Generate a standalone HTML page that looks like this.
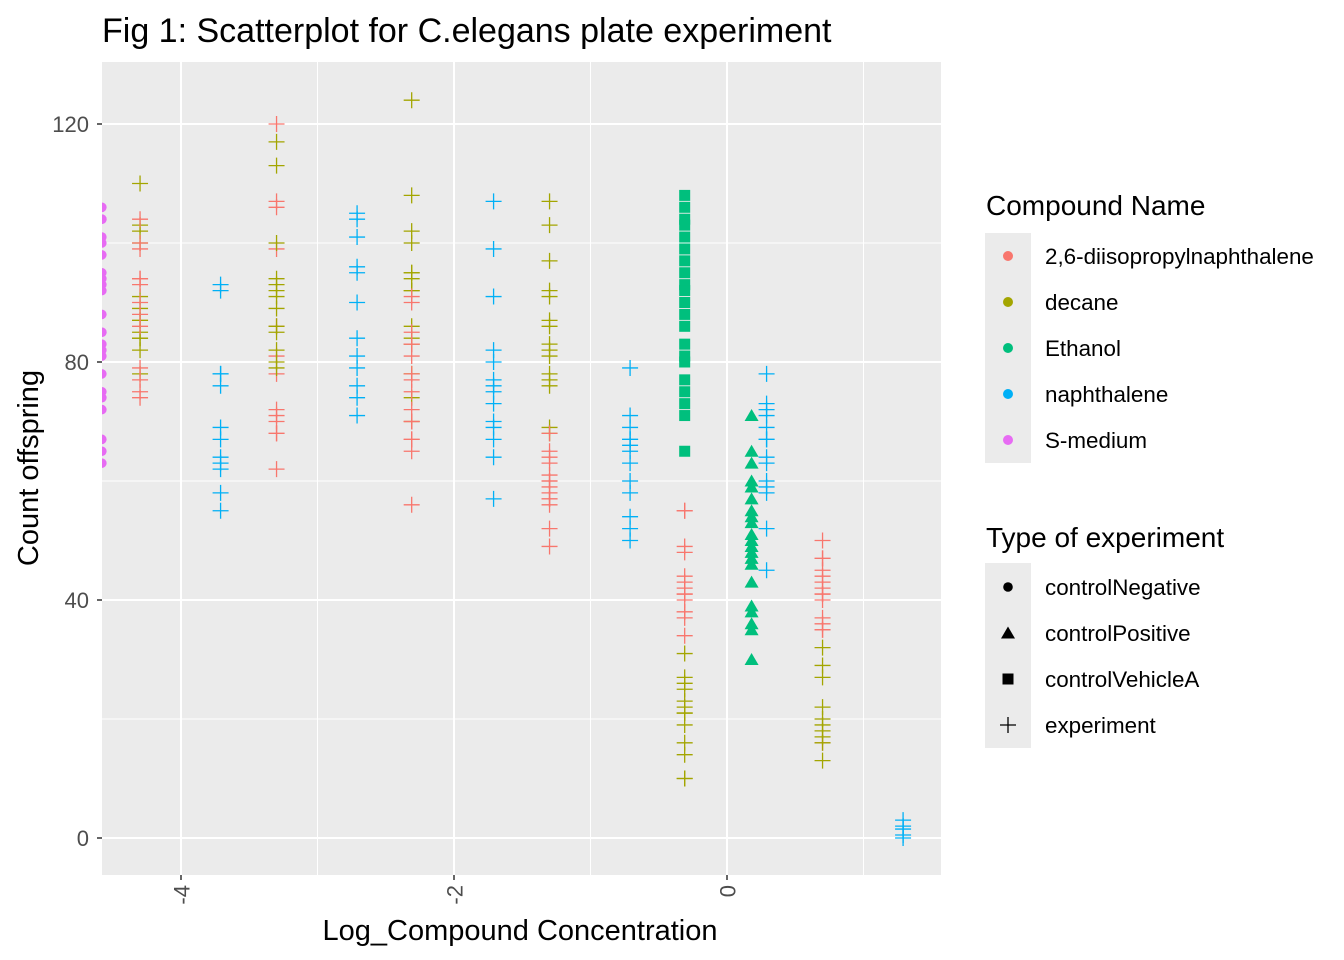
<!DOCTYPE html>
<html><head><meta charset="utf-8"><style>
body{margin:0;background:#fff;}
svg{display:block;font-family:"Liberation Sans",Arial,sans-serif;}
</style></head><body>
<svg id="chart" width="1344" height="960" viewBox="0 0 1344 960">
<defs><clipPath id="pc"><rect x="102" y="62" width="839" height="813"/></clipPath></defs>
<text x="102" y="42" font-size="34" fill="#000">Fig 1: Scatterplot for C.elegans plate experiment</text>
<rect x="102" y="62" width="839" height="813" fill="#EBEBEB"/>
<g id="grid"></g>
<g id="marks" clip-path="url(#pc)"></g>
<g id="axes"></g>
<text x="520" y="940" font-size="29" text-anchor="middle" fill="#000">Log_Compound Concentration</text>
<text transform="translate(38,468) rotate(-90)" font-size="29" text-anchor="middle" fill="#000">Count offspring</text>
<g id="legend"></g>
</svg>
<script>
const xTicks=[-4,-2,0];
const xMinor=[-3,-1,1];
const yTicks=[0,40,80,120];
const yMinor=[20,60,100];
const compounds=["2,6-diisopropylnaphthalene","decane","Ethanol","naphthalene","S-medium"];
const colors=["#F8766D","#A3A500","#00BF7D","#00B0F6","#E76BF3"];
const types=["controlNegative","controlPositive","controlVehicleA","experiment"];
const sMediumCounts=[106,104,104,101,100,98,95,94,93,92,88,85,85,83,82,81,78,75,74,72,67,65,63];
const ethanolVehicleCounts=[108,106,104,103,101,99,97,95,93,92,90,88,86,83,81,80,77,75,73,71,65];
const ethanolPositiveCounts=[71,65,63,60,59,57,55,54,53,51,50,49,48,47,46,43,39,38,36,35,30];
const groups=[
 [4,0,-4.58,sMediumCounts],
 [1,3,-4.30,[110,103,102,100,91,89,87,87,85,84,84,82,78]],
 [0,3,-4.30,[104,100,99,94,94,93,90,88,86,79,77,75,74]],
 [3,3,-3.71,[93,92,78,78,76,69,67,64,63,62,58,55]],
 [0,3,-3.30,[120,107,106,99,86,81,78,72,71,70,68,68,62]],
 [1,3,-3.30,[117,113,100,94,93,92,91,89,86,85,82,80,79]],
 [3,3,-2.71,[105,104,101,96,95,90,84,81,79,76,74,71]],
 [1,3,-2.31,[124,108,102,100,95,95,94,92,92,86,84,83,78,74,70]],
 [0,3,-2.31,[91,90,85,83,83,81,78,77,75,72,70,70,67,67,65,56]],
 [3,3,-1.71,[107,99,91,82,80,77,76,75,73,70,69,67,64,57]],
 [1,3,-1.30,[107,103,97,92,91,87,86,83,82,81,78,77,76,69,68]],
 [0,3,-1.30,[68,65,64,63,61,60,60,59,58,57,57,56,52,49]],
 [3,3,-0.71,[79,71,69,67,67,66,65,63,60,58,54,52,50]],
 [2,2,-0.31,ethanolVehicleCounts],
 [0,3,-0.31,[55,55,49,48,44,43,42,41,41,40,38,38,37,34]],
 [1,3,-0.31,[31,27,26,25,23,22,21,21,19,16,14,10,10]],
 [2,1,0.18,ethanolPositiveCounts],
 [3,3,0.29,[78,73,72,71,69,67,67,64,63,60,59,58,52,45]],
 [0,3,0.70,[50,47,47,45,44,43,42,41,41,40,37,36,35,35,16]],
 [1,3,0.70,[32,29,27,22,20,19,18,17,16,13]],
 [3,3,1.29,[3,2,1.5,0.5,0]]
];
const NS="http://www.w3.org/2000/svg";
const X=v=>727+v*136.5;
const Y=v=>838-v*5.95;
function mk(t,a,p){const e=document.createElementNS(NS,t);for(const k in a)e.setAttribute(k,a[k]);p.appendChild(e);return e;}
const grid=document.getElementById('grid'),axes=document.getElementById('axes'),marks=document.getElementById('marks'),leg=document.getElementById('legend');
xMinor.forEach(v=>{const l=mk('line',{x1:X(v),x2:X(v),y1:62,y2:875,stroke:'#fff','stroke-width':1},grid);

});
yMinor.forEach(v=>{const l=mk('line',{x1:102,x2:941,y1:Y(v),y2:Y(v),stroke:'#fff','stroke-width':1},grid);

});
xTicks.forEach(v=>{const l=mk('line',{x1:X(v),x2:X(v),y1:62,y2:875,stroke:'#fff','stroke-width':2},grid);


const t=mk('line',{x1:X(v),x2:X(v),y1:875,y2:880,stroke:'#333','stroke-width':1.5},axes);


const tx=mk('text',{transform:`translate(${X(v)+1},885) rotate(-90)`,'text-anchor':'end','dominant-baseline':'central','font-size':22,fill:'#4D4D4D'},axes);
tx.textContent=String(v);

});
yTicks.forEach(v=>{const l=mk('line',{x1:102,x2:941,y1:Y(v),y2:Y(v),stroke:'#fff','stroke-width':2},grid);


const t=mk('line',{x1:97,x2:102,y1:Y(v),y2:Y(v),stroke:'#333','stroke-width':1.5},axes);


const tx=mk('text',{x:89,y:Y(v)+8,'text-anchor':'end','font-size':22,fill:'#4D4D4D'},axes);
tx.textContent=String(v);

});
function shape(type,cx,cy,col,p,s){s=s||1;let e;
 if(type===0)e=mk('circle',{cx,cy,r:4.8*s,fill:col},p);
 else if(type===1)e=mk('polygon',{points:`${cx},${cy-6.5*s} ${cx-7*s},${cy+5.5*s} ${cx+7*s},${cy+5.5*s}`,fill:col},p);
 else if(type===2)e=mk('rect',{x:cx-5.5*s,y:cy-5.5*s,width:11*s,height:11*s,fill:col},p);
 else e=mk('path',{d:`M${cx-8*s},${cy}H${cx+8*s}M${cx},${cy-8*s}V${cy+8*s}`,stroke:col,'stroke-width':1.3,fill:'none'},p);
 return e;}
groups.forEach(g=>{g[3].forEach(v=>{const e=shape(g[1],X(g[2]),Y(v),colors[g[0]],marks);

});});
const lt1=mk('text',{x:986,y:215,'font-size':28,fill:'#000'},leg);lt1.textContent='Compound Name';


mk('rect',{x:985,y:233,width:46,height:230,fill:'#EBEBEB'},leg);
compounds.forEach((c,i)=>{const y=256+i*46;const gg=mk('g',{},leg);


mk('circle',{cx:1008,cy:y,r:5,fill:colors[i]},gg);
const t=mk('text',{x:1045,y:y+8,'font-size':22.4,fill:'#000'},gg);t.textContent=c;});
const lt2=mk('text',{x:986,y:547,'font-size':28,fill:'#000'},leg);lt2.textContent='Type of experiment';


mk('rect',{x:985,y:563,width:46,height:185,fill:'#EBEBEB'},leg);
types.forEach((c,i)=>{const y=587+i*46;const gg=mk('g',{},leg);


shape(i,1008,y,'#000',gg,1);
const t=mk('text',{x:1045,y:y+8,'font-size':22.4,fill:'#000'},gg);t.textContent=c;});
</script>
</body></html>
